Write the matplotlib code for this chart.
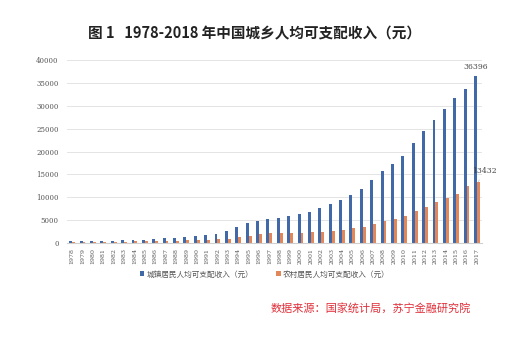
import matplotlib
matplotlib.use('Agg')
import matplotlib.pyplot as plt
import numpy as np

plt.rcParams['font.family'] = ['Noto Sans CJK SC', 'DejaVu Sans']

years = [str(y) for y in range(1978, 2018)]
urban = [343, 405, 478, 500, 535, 565, 652, 739, 901, 1002,
         1180, 1374, 1510, 1701, 2027, 2577, 3496, 4283, 4839, 5160,
         5425, 5854, 6280, 6860, 7703, 8472, 9422, 10493, 11760, 13786,
         15781, 17175, 19109, 21810, 24565, 26955, 29300, 31600, 33616, 36396]
rural = [134, 160, 191, 223, 270, 310, 355, 398, 424, 463,
         545, 602, 686, 709, 784, 922, 1221, 1578, 1926, 2090,
         2162, 2210, 2253, 2366, 2476, 2622, 2936, 3255, 3587, 4140,
         4761, 5153, 5919, 6977, 7917, 8896, 9900, 10700, 12400, 13432]

blue = '#4169a8'
orange = '#e2875a'

fig = plt.figure(figsize=(5.19, 3.39), dpi=100)
ax = fig.add_axes([0.129, 0.283, 0.8, 0.54])

x = np.arange(len(years))
w = 0.28
ax.bar(x - w / 2, urban, w, color=blue, label='城镇居民人均可支配收入（元）')
ax.bar(x + w / 2, rural, w, color=orange, label='农村居民人均可支配收入（元）')

ax.set_xlim(-0.5, len(years) - 0.5)
ax.set_ylim(0, 40000)
ax.set_yticks(range(0, 40001, 5000))
ax.yaxis.grid(True, color='#e4e4e4', lw=0.7)
ax.set_axisbelow(True)
for s in ax.spines.values():
    s.set_visible(False)
ax.spines['bottom'].set_visible(True)
ax.spines['bottom'].set_color('#d0d0d0')
ax.tick_params(axis='both', length=0, colors='#555555')
ax.tick_params(axis='y', labelsize=5, pad=6)
ax.set_xticks(x)
ax.set_xticklabels(years, rotation=90, fontsize=4.5, family='DejaVu Serif')
for t in ax.get_yticklabels():
    t.set_family('DejaVu Serif')

ax.annotate(str(urban[-1]), (x[-1] - w / 2, urban[-1]), xytext=(0, 4),
            textcoords='offset points', ha='center', va='bottom',
            fontsize=5.5, color='#444444', family='DejaVu Serif')
ax.annotate(str(rural[-1]), (x[-1] + w / 2, rural[-1]), xytext=(4, 5),
            textcoords='offset points', ha='center', va='bottom',
            fontsize=5.5, color='#444444', family='DejaVu Serif',
            arrowprops=dict(arrowstyle='-', color='#bbbbbb', lw=0.5))

fig.text(0.49, 0.903, '图 1   1978-2018 年中国城乡人均可支配收入（元）',
         ha='center', va='center', fontsize=10.5, fontweight='bold', color='#222222')

fig.legend(loc='center', bbox_to_anchor=(0.51, 0.19), ncol=2, frameon=False,
           fontsize=5.5, handlelength=0.6, handleheight=0.6, columnspacing=3,
           handletextpad=0.3, labelcolor='#555555')

fig.text(0.715, 0.09, '数据来源：国家统计局，苏宁金融研究院', ha='center', va='center',
         fontsize=8, color='#e0303a', style='italic')

fig.savefig('out.png', dpi=100)
